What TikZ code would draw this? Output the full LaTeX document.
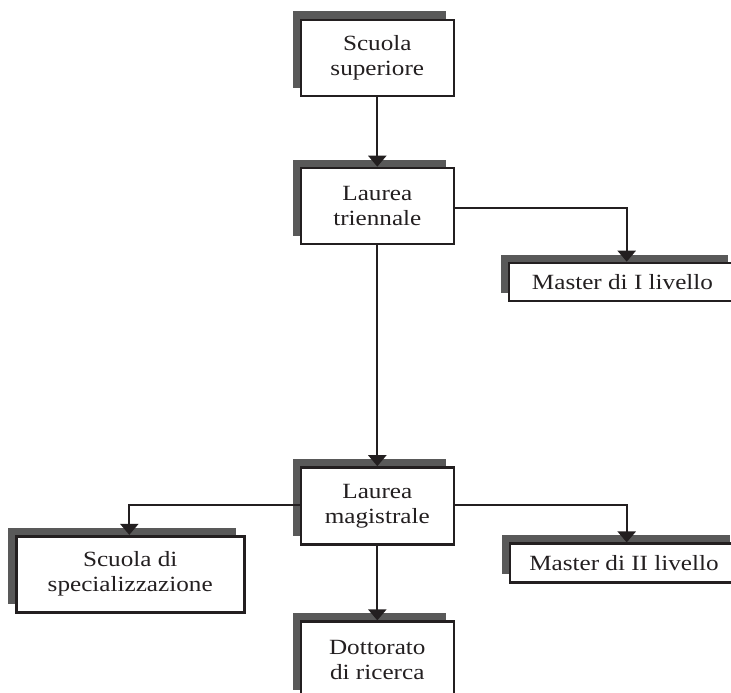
\documentclass[tikz,border=0pt]{standalone}
\usepackage{fontspec}
\setmainfont{Liberation Serif}[FakeStretch=1.16]
\usetikzlibrary{arrows.meta,shadows}
\definecolor{inkc}{HTML}{231F20}
\definecolor{shadowc}{HTML}{595959}
\tikzset{
  boxnode/.style={draw=inkc, line width=2.6pt, fill=white, text=inkc,
    align=center, inner sep=0pt, font=\fontsize{21.7}{25}\selectfont,
    general shadow={fill=shadowc, shadow xshift=-8pt, shadow yshift=8.5pt}},
  conn/.style={draw=inkc, line width=2.2pt, -{Triangle[width=18pt,length=11pt]}},
}
\begin{document}
\begin{tikzpicture}[x=1pt,y=-1pt]
\useasboundingbox (0,0) rectangle (731,693);
\clip (0,0) rectangle (731,693);
\node[boxnode, minimum width=153pt, minimum height=76pt] (A) at (377.3,58) {Scuola\\superiore};
\node[boxnode, minimum width=153pt, minimum height=76pt] (B) at (377.3,206) {Laurea\\triennale};
\node[boxnode, minimum width=227pt, minimum height=38pt] (C) at (622.5,282) {Master di I livello};
\node[boxnode, minimum width=153pt, minimum height=77pt] (D) at (377.3,506) {Laurea\\magistrale};
\node[boxnode, minimum width=228pt, minimum height=76pt] (E) at (130.2,574.2) {Scuola di\\specializzazione};
\node[boxnode, minimum width=228pt, minimum height=38.5pt] (F) at (624,563) {Master di II livello};
\node[boxnode, minimum width=153pt, minimum height=77pt] (G) at (377.3,660.2) {Dottorato\\di ricerca};
\draw[conn] (A.south) -- (B.north);
\draw[conn] ([yshift=-2pt]B.east) -| ([xshift=4.2pt]C.north);
\draw[conn] (B.south) -- (D.north);
\draw[conn] ([yshift=1pt]D.west) -| ([xshift=-0.9pt]E.north);
\draw[conn] ([yshift=1pt]D.east) -| ([xshift=2.7pt]F.north);
\draw[conn] (D.south) -- (G.north);
\end{tikzpicture}
\end{document}
